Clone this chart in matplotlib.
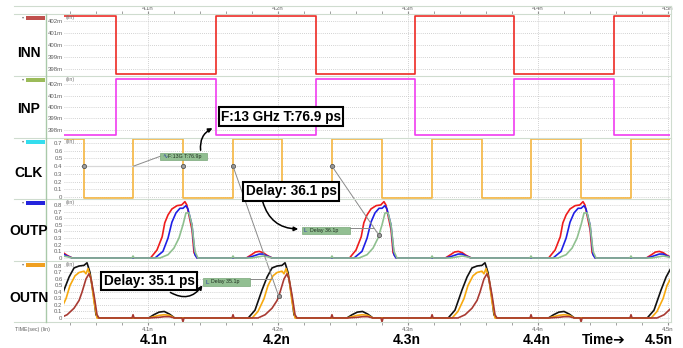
import matplotlib.pyplot as plt
import numpy as np
from matplotlib.patches import ConnectionPatch, FancyArrowPatch, Rectangle
from matplotlib.ticker import MultipleLocator, FuncFormatter

W, H = 683, 348
t_lo, t_hi = 4.0354, 4.5015          # visible time window (ns)

# digital waveforms: switching times (ns)
inn_edges = [4.0754, 4.1523, 4.2292, 4.3054, 4.3815, 4.4585]
clk_edges = [4.0508, 4.0885, 4.1269, 4.1654, 4.2031, 4.2415,
             4.2800, 4.3185, 4.3569, 4.3946, 4.4331, 4.4715]
in_levels = (402.45, 397.6)          # mV
clk_levels = (0.75, -0.01)

# OUTP pulses, shapes in ps relative to the clk falling edge
outp_edges = [4.1269, 4.2800, 4.4331]
outp_red_dt = [-25, -20, -16, -14, -11.5, -8.5, -4.5, -1, 1.5, 3, 7, 8.5, 11]
outp_red = [0, 0.12, 0.32, 0.53, 0.65, 0.74, 0.79, 0.80, 0.85, 0.80, 0.42, 0.08, 0]
outp_blue_dt = [-21.5, -15.4, -11.5, -8.5, -5.4, -2.3, 0, 2.3, 3.8, 6.9, 9.2, 10.8]
outp_blue = [0, 0.1, 0.3, 0.54, 0.68, 0.75, 0.75, 0.79, 0.74, 0.5, 0.05, 0]
outp_green_dt = [-17.7, -11.5, -6.9, -3.1, 0, 2.3, 4.6, 6.9, 9.2, 11.5]
outp_green = [0, 0.05, 0.15, 0.3, 0.5, 0.68, 0.68, 0.5, 0.1, 0]
outp_bumps = [4.0308, 4.1846, 4.3377, 4.4923]
bump_p_dt = [-9, -5, -2, 1, 4, 7, 11]
outp_red_bump = [0, 0.05, 0.09, 0.1, 0.08, 0.04, 0]
outp_blue_bump = [0, 0.02, 0.04, 0.06, 0.06, 0.03, 0]
outp_green_bump = [0, 0, 0.01, 0.02, 0.03, 0.02, 0]

# OUTN pulses
outn_edges = [4.0508, 4.2031, 4.3569, 4.5100]
outn_black_dt = [-26, -20.8, -15.4, -11.5, -7.7, -3.8, 0, 2.3, 4.6, 7.7, 9.2, 10.8]
outn_black = [0, 0.12, 0.43, 0.63, 0.77, 0.8, 0.81, 0.85, 0.7, 0.3, 0.05, 0]
outn_orange_dt = [-23, -18.5, -13.8, -10.8, -6.9, -3.8, 0, 1.5, 3.1, 5.4, 7.7, 10]
outn_orange = [0, 0.1, 0.3, 0.5, 0.65, 0.7, 0.72, 0.68, 0.76, 0.6, 0.25, 0]
outn_dred_dt = [-18.5, -13, -7.7, -3.8, -1.5, 1.5, 3.8, 5.4, 7.7, 10, 11.5]
outn_dred = [0, 0.05, 0.15, 0.27, 0.4, 0.6, 0.68, 0.6, 0.35, 0.05, 0]
outn_bumps = [4.1095, 4.2620, 4.4170]
bump_n_dt = [-9, -5, -1, 3, 7, 11]
outn_black_bump = [0, 0.05, 0.09, 0.1, 0.06, 0]
outn_orange_bump = [0, 0.02, 0.04, 0.05, 0.04, 0]
outn_dred_bump = [0, 0.005, 0.01, 0.02, 0.02, 0]

spike_dt = [-0.8, 0, 0.8]
clk_rise = clk_edges[1::2]
up_spike = [0, 0.05, 0]
down_spike = [0, -0.06, 0]
small_spike = [0, 0.03, 0]

# measurements
period_meas = (4.0508, 4.1269)
delay_p = (4.2415, 0.0361)
delay_n = (4.1654, 0.0351)


def digital(edges, start_high, hi, lo):
    t = [t_lo - 0.01] + edges + [t_hi + 0.01]
    lv = [hi if (i % 2 == 0) == start_high else lo for i in range(len(edges) + 1)]
    return t, lv + [lv[-1]]


def trace(parts):
    t, v = [t_lo - 0.05], [0.0]
    for centers, dt, vals in parts:
        for c in centers:
            t += [c + d / 1000 for d in dt]
            v += list(vals)
    t.append(t_hi + 0.05)
    v.append(0.0)
    o = np.argsort(t, kind='stable')
    return np.array(t)[o], np.array(v)[o]


fig = plt.figure(figsize=(W / 100, H / 100), dpi=100)
plt.rcParams['font.family'] = ['Liberation Sans', 'DejaVu Sans']

rows = [(14, 76), (76, 138), (138, 199), (199, 261), (261, 322)]
ylims = [(397.42, 402.58), (397.3, 402.7), (-0.026, 0.765), (-0.045, 0.89), (-0.062, 0.877)]
yticks = [np.arange(398, 403), np.arange(398, 403), np.arange(0, 0.71, 0.1),
          np.arange(0, 0.81, 0.1), np.arange(0, 0.81, 0.1)]
fmts = [lambda v, _: f'{v:.0f}m', lambda v, _: f'{v:.0f}m',
        lambda v, _: f'{v:.1f}'.rstrip('0').rstrip('.') if v else '0',
        lambda v, _: f'{v:.1f}'.rstrip('0').rstrip('.') if v else '0',
        lambda v, _: f'{v:.1f}'.rstrip('0').rstrip('.') if v else '0']

axes = []
for i, (top, bot) in enumerate(rows):
    ax = fig.add_axes([64 / W, 1 - bot / H, 606 / W, (bot - top) / H])
    ax.set_xlim(t_lo, t_hi)
    ax.set_ylim(*ylims[i])
    ax.set_yticks(yticks[i])
    ax.yaxis.set_major_formatter(FuncFormatter(fmts[i]))
    ax.xaxis.set_major_locator(MultipleLocator(0.1))
    ax.xaxis.set_minor_locator(MultipleLocator(0.02))
    ax.grid(True, ls=(0, (1, 1.5)), color='#c4c4c4', lw=0.6)
    for s in ax.spines.values():
        s.set_visible(False)
    ax.tick_params(axis='y', length=0, pad=1, labelsize=4.3, labelcolor='#606060')
    ax.tick_params(axis='x', which='both', length=0, labelbottom=False)
    ax.text(0.002, 0.985, '(lin)', transform=ax.transAxes, fontsize=3.8,
            color='#707070', va='top', ha='left')
    axes.append(ax)

xfmt = FuncFormatter(lambda v, _: f'{v:.1f}n')
top_ax, bot_ax = axes[0], axes[-1]
top_ax.xaxis.tick_top()
top_ax.tick_params(axis='x', which='both', length=2, color='#909090', labeltop=True,
                   labelsize=4.3, labelcolor='#606060', pad=0.5)
top_ax.xaxis.set_major_formatter(xfmt)
bot_ax.tick_params(axis='x', which='both', length=2, color='#909090', labelbottom=True,
                   labelsize=4.3, labelcolor='#606060', pad=1.5)
bot_ax.xaxis.set_major_formatter(xfmt)

# digital signals
t, lv = digital(inn_edges, True, *in_levels)
axes[0].step(t, lv, where='post', color='#ee2a24', lw=1.2)
t, lv = digital(inn_edges, False, *in_levels)
axes[1].step(t, lv, where='post', color='#f03cf0', lw=1.2)
t, lv = digital(clk_edges, True, *clk_levels)
axes[2].step(t, lv, where='post', color='#f5b53f', lw=1.2)

# OUTP
tp_r, vp_r = trace([(outp_edges, outp_red_dt, outp_red), (outp_bumps, bump_p_dt, outp_red_bump)])
tp_b, vp_b = trace([(outp_edges, outp_blue_dt, outp_blue), (outp_bumps, bump_p_dt, outp_blue_bump)])
tp_g, vp_g = trace([(outp_edges, outp_green_dt, outp_green), (outp_bumps, bump_p_dt, outp_green_bump),
                    (clk_rise, spike_dt, small_spike)])
axes[3].plot(tp_r, vp_r, color='#ee1c1c', lw=1.2)
axes[3].plot(tp_b, vp_b, color='#1f1fe6', lw=1.2)
axes[3].plot(tp_g, vp_g, color='#8fc08f', lw=1.2)

# OUTN
tn_k, vn_k = trace([(outn_edges, outn_black_dt, outn_black), (outn_bumps, bump_n_dt, outn_black_bump)])
tn_o, vn_o = trace([(outn_edges, outn_orange_dt, outn_orange), (outn_bumps, bump_n_dt, outn_orange_bump)])
tn_d, vn_d = trace([(outn_edges, outn_dred_dt, outn_dred), (outn_bumps, bump_n_dt, outn_dred_bump),
                    (clk_rise, spike_dt, up_spike), (outp_edges, spike_dt, down_spike)])
axes[4].plot(tn_k, vn_k, color='#111111', lw=1.2)
axes[4].plot(tn_o, vn_o, color='#f7a90f', lw=1.2)
axes[4].plot(tn_d, vn_d, color='#a83a32', lw=1.2)

# measurement markers / lines
mk = dict(marker='o', ms=3, mfc='#a0a0a0', mec='#555555', mew=0.6, ls='none', zorder=6)
axes[2].plot(period_meas, [0.4, 0.4], color='#d8d8d8', lw=0.9, zorder=4)
axes[2].plot(list(period_meas) + [delay_n[0], delay_p[0]], [0.4] * 4, **mk)
tp_end = delay_p[0] + delay_p[1]
vp_end = np.interp(tp_end, tp_g, vp_g)
axes[3].plot([tp_end], [vp_end], **mk)
tn_end = delay_n[0] + delay_n[1]
vn_end = np.interp(tn_end, tn_d, vn_d)
axes[4].plot([tn_end], [vn_end], **mk)
for a0, a1, xy0, xy1 in [(axes[2], axes[3], (delay_p[0], 0.4), (tp_end, vp_end)),
                         (axes[2], axes[4], (delay_n[0], 0.4), (tn_end, vn_end))]:
    fig.add_artist(ConnectionPatch(xyA=xy0, coordsA='data', axesA=a0, xyB=xy1, coordsB='data',
                                   axesB=a1, color='#8a8a8a', lw=0.7, zorder=1))

# overlay in pixel coordinates for the decorations
ov = fig.add_axes([0, 0, 1, 1], zorder=10)
ov.set_xlim(0, W)
ov.set_ylim(H, 0)
ov.axis('off')

fig.add_artist(ConnectionPatch(xyA=(sum(period_meas) / 2, 0.4), coordsA='data', axesA=axes[2],
                               xyB=(161, 156), coordsB=ov.transData, color='#8a8a8a', lw=0.7))

frame = '#cfdccf'
for y in [6, 14, 76, 138, 199, 261, 322]:
    ov.plot([14, 671], [y, y], color=frame, lw=0.8)
ov.plot([46, 46], [14, 322], color='#a9c9a9', lw=1.0)
ov.plot([671, 671], [6, 322], color=frame, lw=0.8)

names = ['INN', 'INP', 'CLK', 'OUTP', 'OUTN']
name_y = [53, 109, 173, 231, 298]
tag_colors = ['#c0504d', '#9bbb59', '#33ddee', '#2424dd', '#f0a020']
for (top, bot), nm, ny, tc in zip(rows, names, name_y, tag_colors):
    ov.text(29, ny, nm, fontsize=10, fontweight='bold', ha='center', va='center')
    ov.add_patch(Rectangle((26, top + 1.5), 19, 4, fc=tc, ec='none'))
    ov.text(23.5, top + 3.5, '\u25be', fontsize=3, color='#777777', ha='center', va='center')

ov.text(15, 330, 'TIME(sec) (lin)', fontsize=3.8, color='#606060', va='center')

big = ['4.1n', '4.2n', '4.3n', '4.4n', 'Time\u2794', '4.5n']
big_x = [154, 277, 407, 537, 604, 659]
for s, x in zip(big, big_x):
    ov.text(x, 340, s, fontsize=10, fontweight='bold', ha='center', va='center')

# small green measurement labels
for (x0, y0, w, h), s, icon in [((160, 153, 47, 7), 'F:13G T:76.9p', '\u223f'),
                                ((302, 227, 48, 7), 'Delay 36.1p', 'L'),
                                ((203, 278, 47, 8), 'Delay 35.1p', 'L')]:
    ov.add_patch(Rectangle((x0, y0), w, h, fc='#92bf92', ec='#7aa87a', lw=0.5))
    ov.text(x0 + 2, y0 + h / 2, icon, fontsize=4.5, color='#3040a0', va='center')
    ov.text(x0 + 8, y0 + h / 2, s, fontsize=3.8, color='#203020', va='center')
ov.plot([350, 373], [228, 228], color='#8a8a8a', lw=0.7)
ov.plot([250, 271], [278.5, 278.5], color='#8a8a8a', lw=0.7)

# arrows from the callout boxes
for a, b, rad in [((201, 153), (215, 127), -0.4), ((262, 199), (301, 229), 0.4),
                  ((168, 291), (204, 283), 0.5)]:
    ov.add_patch(FancyArrowPatch(a, b, arrowstyle='-|>', mutation_scale=6, lw=1.1,
                                 color='black', connectionstyle=f'arc3,rad={rad}', zorder=2))

box = dict(boxstyle='square,pad=0.18', fc='white', ec='black', lw=1.5)
ov.text(281, 116.5, 'F:13 GHz T:76.9 ps', fontsize=9.8, fontweight='bold', ha='center',
        va='center', bbox=box, zorder=5)
ov.text(291, 191.5, 'Delay: 36.1 ps', fontsize=9.8, fontweight='bold', ha='center',
        va='center', bbox=box, zorder=5)
ov.text(149, 281, 'Delay: 35.1 ps', fontsize=9.8, fontweight='bold', ha='center',
        va='center', bbox=box, zorder=5)

fig.savefig('out.png', dpi=100)
